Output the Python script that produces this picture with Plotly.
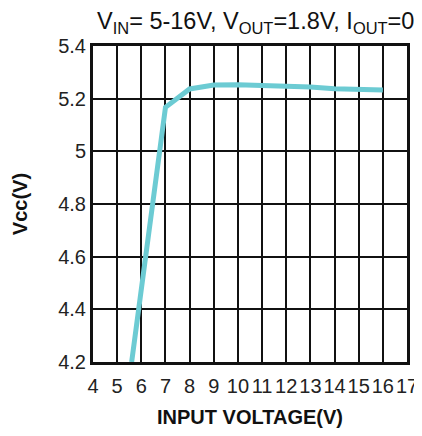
import plotly.graph_objects as go

vin = [5.6, 7, 8, 9, 10, 11, 12, 13, 14, 15, 16]
vcc = [4.2, 5.167, 5.237, 5.252, 5.253, 5.251, 5.249, 5.244, 5.238, 5.235, 5.233]

x_ticks = list(range(4, 18))
y_ticks = [4.2, 4.4, 4.6, 4.8, 5.0, 5.2, 5.4]
y_tick_labels = ["4.2", "4.4", "4.6", "4.8", "5", "5.2", "5.4"]
title_text = "V<sub>IN</sub>= 5-16V, V<sub>OUT</sub>=1.8V, I<sub>OUT</sub>=0"

fig = go.Figure()
fig.add_trace(go.Scatter(x=vin, y=vcc, mode="lines",
                         line=dict(color="#6ccbd3", width=5), showlegend=False))

font = "Liberation Sans, Arial, sans-serif"
# page body has an 8px margin, so the figure is offset by 8px
fig.update_layout(
    width=414, height=420,
    margin=dict(l=85, r=15, t=38, b=66, autoexpand=False),
    paper_bgcolor="white", plot_bgcolor="white",
    font=dict(family=font, color="#222", size=20),
)
fig.add_annotation(text=title_text, xref="paper", yref="paper",
                   x=1.03, y=1.075, xanchor="right", yanchor="middle",
                   showarrow=False, font=dict(size=23.5, family=font, color="#111"))
fig.update_xaxes(
    range=[4, 17], tickvals=x_ticks, ticktext=[str(v) for v in x_ticks],
    showgrid=True, gridcolor="#111", gridwidth=1.5,
    showline=True, linecolor="#111", linewidth=3, mirror=True,
    ticks="", zeroline=False, tickfont=dict(size=20), tickangle=0, automargin=False,
    ticklabelstandoff=4, ticklabeloverflow="allow",
    title=dict(text="<b>INPUT VOLTAGE(V)</b>", font=dict(size=20, color="#111"), standoff=16),
)
fig.update_yaxes(
    range=[4.2, 5.4], tickvals=y_ticks, ticktext=y_tick_labels,
    showgrid=True, gridcolor="#111", gridwidth=1.5,
    showline=True, linecolor="#111", linewidth=3, mirror=True,
    ticks="", zeroline=False, tickfont=dict(size=20), automargin=False,
    title=dict(text="<b>Vcc(V)</b>", font=dict(size=20, color="#111"), standoff=26),
)
fig.write_html("out.html")
